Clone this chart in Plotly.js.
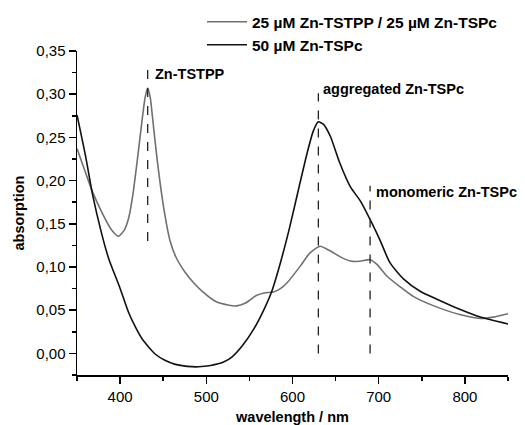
<!DOCTYPE html>
<html>
<head>
<meta charset="utf-8">
<script src="https://cdn.plot.ly/plotly-3.0.1.min.js"></script>
<style>html,body{margin:0;padding:0;background:#fff;}#chart{width:525px;height:425px;}</style>
</head>
<body>
<div id="chart"></div>
<script>
// Mixture: 25 µM Zn-TSTPP / 25 µM Zn-TSPc
const mixWavelength = [350,360,368,380,390,398,405,410,415,420,426,429,432,435,437.5,443,451,458,465,476,485,495,511,525,535,545,551,558,567,578,586,594,609,620,632,643,655,667,678,690,698,710,725,740,764,794,818,833,850];
const mixAbsorption = [0.237,0.209,0.187,0.161,0.143,0.1355,0.143,0.157,0.185,0.224,0.274,0.296,0.307,0.296,0.274,0.224,0.166,0.130,0.111,0.093,0.082,0.072,0.060,0.056,0.055,0.058,0.062,0.067,0.070,0.071,0.075,0.082,0.101,0.116,0.124,0.119,0.112,0.107,0.1066,0.1085,0.103,0.089,0.077,0.066,0.055,0.045,0.0405,0.042,0.046];

// 50 µM Zn-TSPc
const pcWavelength = [350,360,368,378,387,399,410,418,426,441,452,464,478,491,505,520,530,542,555,567,576,586,596,607,617,624,630,636,644,655,667,679,692,702,713,729,748,767,794,818,850];
const pcAbsorption = [0.276,0.228,0.184,0.141,0.109,0.078,0.047,0.030,0.016,-0.001,-0.008,-0.0127,-0.015,-0.0155,-0.014,-0.010,-0.004,0.009,0.028,0.051,0.072,0.105,0.143,0.190,0.232,0.257,0.268,0.265,0.251,0.220,0.193,0.176,0.151,0.130,0.105,0.086,0.072,0.063,0.051,0.042,0.034];

const seriesNames = ["25 µM Zn-TSTPP / 25 µM Zn-TSPc", "50 µM Zn-TSPc"];

// Band markers
const markerLabels = ["Zn-TSTPP", "aggregated Zn-TSPc", "monomeric Zn-TSPc"];
const markerWavelength = [432, 630, 690];
const markerTop = [0.334, 0.301, 0.194];
const markerBottom = [0.130, 0.0, 0.0];
const labelWavelength = [438, 633, 694];
const labelAbsorption = [0.323, 0.306, 0.187];

const FONT = "Arial, 'Liberation Sans', sans-serif";

const traces = [
  {x: mixWavelength, y: mixAbsorption, name: seriesNames[0], type: "scatter", mode: "lines",
   line: {color: "#707070", width: 1.6, shape: "spline", smoothing: 0.6}},
  {x: pcWavelength, y: pcAbsorption, name: seriesNames[1], type: "scatter", mode: "lines",
   line: {color: "#111111", width: 1.6, shape: "spline", smoothing: 0.6}}
];

const shapes = markerWavelength.map((w, i) => ({
  type: "line", xref: "x", yref: "y", x0: w, x1: w, y0: markerBottom[i], y1: markerTop[i],
  line: {color: "#222", width: 1.3, dash: "dash"}
}));

const annotations = markerLabels.map((t, i) => ({
  x: labelWavelength[i], y: labelAbsorption[i], xref: "x", yref: "y", text: t,
  showarrow: false, xanchor: "left", yanchor: "middle",
  font: {family: FONT, size: 14.5, color: "#000", weight: "bold"}
}));

const layout = {
  width: 525, height: 425,
  margin: {l: 77, r: 17, t: 51, b: 50, pad: 0, autoexpand: false},
  paper_bgcolor: "#fff", plot_bgcolor: "#fff",
  separators: ",.",
  font: {family: FONT, color: "#000"},
  showlegend: true,
  legend: {x: 0.29, y: 0.988, yref: "container", xanchor: "left", yanchor: "top", bgcolor: "rgba(0,0,0,0)",
    itemwidth: 40,
    font: {family: FONT, size: 15.5, color: "#000", weight: "bold"}, tracegroupgap: 0},
  xaxis: {
    range: [350, 850], dtick: 100, tick0: 0, showgrid: false, zeroline: false,
    showline: true, linecolor: "#000", linewidth: 1.5,
    ticks: "outside", ticklen: 7, tickwidth: 1.5, tickcolor: "#000",
    minor: {dtick: 50, tick0: 0, ticks: "outside", ticklen: 4, tickwidth: 1.5, tickcolor: "#000", showgrid: false},
    tickfont: {family: FONT, size: 15, color: "#000"},
    title: {text: "wavelength / nm", standoff: 14, font: {family: FONT, size: 14.5, color: "#000", weight: "bold"}}
  },
  yaxis: {
    range: [-0.025, 0.35], dtick: 0.05, tick0: 0, tickformat: ".2f", showgrid: false, zeroline: false,
    showline: true, linecolor: "#000", linewidth: 1.5,
    ticks: "outside", ticklen: 7, tickwidth: 1.5, tickcolor: "#000",
    minor: {dtick: 0.025, tick0: 0, ticks: "outside", ticklen: 4, tickwidth: 1.5, tickcolor: "#000", showgrid: false},
    tickfont: {family: FONT, size: 15, color: "#000"},
    title: {text: "absorption", standoff: 8, font: {family: FONT, size: 14.5, color: "#000", weight: "bold"}}
  },
  shapes: shapes,
  annotations: annotations
};

Plotly.newPlot("chart", traces, layout, {staticPlot: true, displayModeBar: false});
</script>
</body>
</html>
